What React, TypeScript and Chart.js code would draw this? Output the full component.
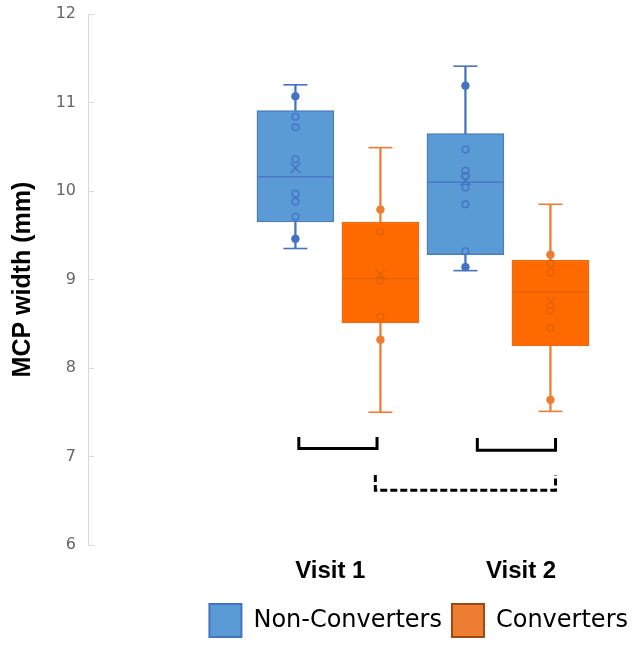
import React, { useEffect, useRef } from "react";
import { Chart, registerables } from "chart.js";

Chart.register(...registerables);

// ---------- data ----------
const visitLabels = ["Visit 1", "Visit 2"];
const seriesNames = ["Non-Converters", "Converters"];

// Non-Converters, per visit
const nonConvMin = [9.35, 9.1];
const nonConvQ1 = [9.65, 9.28];
const nonConvMedian = [10.16, 10.1];
const nonConvQ3 = [10.91, 10.65];
const nonConvMax = [11.2, 11.41];
const nonConvMean = [10.26, 10.12];
const nonConvFilled = [
  [11.07, 9.46],
  [11.19, 9.14],
];
const nonConvHollow = [
  [10.84, 10.72, 10.36, 9.97, 9.88, 9.71],
  [10.47, 10.23, 10.17, 10.04, 9.85, 9.32],
];

// Converters, per visit
const convMin = [7.5, 7.51];
const convQ1 = [8.51, 8.25];
const convMedian = [9.01, 8.86];
const convQ3 = [9.65, 9.22];
const convMax = [10.49, 9.85];
const convMean = [9.06, 8.75];
const convFilled = [
  [9.79, 8.32],
  [9.28, 7.64],
];
const convHollow = [
  [9.54, 8.99, 8.58],
  [9.18, 9.08, 8.65, 8.45],
];

// comparison brackets: [xStart, xEnd, yEnd(tips), yBar] in axis units / mm
const bracketVisit1 = [0.77, 1.23, 7.22, 7.09];
const bracketVisit2 = [1.82, 2.28, 7.21, 7.07];
const bracketConverters = [1.22, 2.28, 6.79, 6.62];

const yTicks = [6, 7, 8, 9, 10, 11, 12];

// ---------- layout constants ----------
const groupCenters = [1, 2];
const boxOffset = 0.25;
const visitLabelPos = [0.955, 2.077];
const X_MIN = -0.47;
const X_MAX = 2.765;

const BLUE_FILL = "#5B9BD5";
const BLUE_EDGE = "#4A7EBB";
const BLUE_LINE = "#4472C4";
const ORANGE_FILL = "#FF6A00";
const ORANGE_EDGE = "#EC6A10";
const ORANGE_LINE = "#ED7D31";
const ORANGE_MARK = "#E0600A";

const xNC = groupCenters.map((c) => c - boxOffset);
const xC = groupCenters.map((c) => c + boxOffset);

function bracketPoints(b: number[]) {
  const [x0, x1, yTip, yBar] = b;
  return [
    { x: x0, y: yTip },
    { x: x0, y: yBar },
    { x: x1, y: yBar },
    { x: x1, y: yTip },
  ];
}

function seriesDatasets(
  xs: number[],
  mins: number[],
  q1: number[],
  med: number[],
  q3: number[],
  maxs: number[],
  means: number[],
  filled: number[][],
  hollow: number[][],
  c: { fill: string; edge: string; line: string; mark: string; markHollow: string },
  name: string
) {
  return [
    {
      type: "bar",
      label: name + " whisker",
      data: xs.map((x, i) => ({ x, y: [mins[i], maxs[i]] })),
      backgroundColor: c.line,
      borderWidth: 0,
      barThickness: 1.6,
      grouped: false,
      order: 10,
    },
    {
      type: "bar",
      label: name,
      data: xs.map((x, i) => ({ x, y: [q1[i], q3[i]] })),
      backgroundColor: c.fill,
      borderColor: c.edge,
      borderWidth: 1.5,
      borderSkipped: false,
      barThickness: 77,
      grouped: false,
      order: 9,
    },
    {
      type: "scatter",
      label: name + " caps",
      data: xs.flatMap((x, i) => [
        { x, y: mins[i] },
        { x, y: maxs[i] },
      ]),
      pointStyle: "line",
      pointRadius: 12,
      pointBorderWidth: 1.6,
      pointBorderColor: c.line,
      pointBackgroundColor: c.line,
      order: 6,
    },
    {
      type: "scatter",
      label: name + " median",
      data: xs.map((x, i) => ({ x, y: med[i] })),
      pointStyle: "line",
      pointRadius: 37.5,
      pointBorderWidth: 1.3,
      pointBorderColor: c.mark,
      pointBackgroundColor: c.mark,
      order: 5,
    },
    {
      type: "scatter",
      label: name + " mean",
      data: xs.map((x, i) => ({ x, y: means[i] })),
      pointStyle: "crossRot",
      pointRadius: 7,
      pointBorderWidth: 1.5,
      pointBorderColor: c.mark,
      pointBackgroundColor: c.mark,
      order: 4,
    },
    {
      type: "scatter",
      label: name + " points",
      data: xs.flatMap((x, i) => hollow[i].map((y) => ({ x, y }))),
      pointStyle: "circle",
      pointRadius: 3.3,
      pointBorderWidth: 1.4,
      pointBorderColor: c.markHollow,
      pointBackgroundColor: "rgba(0,0,0,0)",
      order: 3,
    },
    {
      type: "scatter",
      label: name + " outer points",
      data: xs.flatMap((x, i) => filled[i].map((y) => ({ x, y }))),
      pointStyle: "circle",
      pointRadius: 3.8,
      pointBorderWidth: 1,
      pointBorderColor: c.line,
      pointBackgroundColor: c.line,
      order: 2,
    },
  ];
}

function bracketDataset(b: number[], dashed: boolean) {
  return {
    type: "line",
    label: "bracket",
    data: bracketPoints(b),
    borderColor: "#000",
    borderWidth: 3,
    borderDash: dashed ? [7, 3] : [],
    borderJoinStyle: "miter",
    borderCapStyle: "butt",
    pointRadius: 0,
    fill: false,
    tension: 0,
    clip: false,
    order: 1,
  };
}

function zeroPadding(scale: any) {
  scale.paddingLeft = 0;
  scale.paddingRight = 0;
  scale.paddingTop = 0;
  scale.paddingBottom = 0;
}

export default function App() {
  const ref = useRef<HTMLCanvasElement>(null);

  useEffect(() => {
    if (!ref.current) return;
    const datasets: any[] = [
      ...seriesDatasets(
        xNC,
        nonConvMin,
        nonConvQ1,
        nonConvMedian,
        nonConvQ3,
        nonConvMax,
        nonConvMean,
        nonConvFilled,
        nonConvHollow,
        { fill: BLUE_FILL, edge: BLUE_EDGE, line: BLUE_LINE, mark: BLUE_LINE, markHollow: BLUE_LINE },
        seriesNames[0]
      ),
      ...seriesDatasets(
        xC,
        convMin,
        convQ1,
        convMedian,
        convQ3,
        convMax,
        convMean,
        convFilled,
        convHollow,
        { fill: ORANGE_FILL, edge: ORANGE_EDGE, line: ORANGE_LINE, mark: ORANGE_MARK, markHollow: ORANGE_MARK },
        seriesNames[1]
      ),
      bracketDataset(bracketVisit1, false),
      bracketDataset(bracketVisit2, false),
      bracketDataset(bracketConverters, true),
    ];

    const chart = new Chart(ref.current, {
      type: "bar",
      data: { datasets },
      options: {
        animation: false,
        responsive: true,
        maintainAspectRatio: false,
        events: [],
        layout: { autoPadding: false, padding: { top: 14, right: 0, bottom: 1, left: 0 } },
        plugins: {
          tooltip: { enabled: false },
          title: { display: false },
          legend: {
            display: true,
            position: "bottom",
            align: "end",
            labels: {
              boxWidth: 32,
              boxHeight: 33,
              padding: 10,
              color: "#000",
              font: { family: "'DejaVu Sans', sans-serif", size: 24 },
              generateLabels: () => [
                {
                  text: seriesNames[0],
                  fillStyle: BLUE_FILL,
                  strokeStyle: BLUE_LINE,
                  lineWidth: 2,
                  hidden: false,
                  datasetIndex: 1,
                  fontColor: "#000",
                },
                {
                  text: seriesNames[1],
                  fillStyle: "#ED7D31",
                  strokeStyle: "#9C4A12",
                  lineWidth: 2,
                  hidden: false,
                  datasetIndex: 8,
                  fontColor: "#000",
                },
              ],
            },
          },
        },
        scales: {
          x: {
            type: "linear",
            min: X_MIN,
            max: X_MAX,
            offset: false,
            grid: { display: false },
            border: { display: false },
            afterBuildTicks: (scale: any) => {
              scale.ticks = visitLabelPos.map((v) => ({ value: v }));
            },
            afterFit: (scale: any) => {
              scale.height = 49;
              zeroPadding(scale);
            },
            ticks: {
              autoSkip: false,
              maxRotation: 0,
              minRotation: 0,
              padding: 4,
              color: "#000",
              font: { family: "'Liberation Sans', Arial, sans-serif", size: 24, weight: "bold" },
              callback: (_v: any, i: number) => visitLabels[i],
            },
          },
          y: {
            type: "linear",
            min: yTicks[0],
            max: yTicks[yTicks.length - 1],
            afterBuildTicks: (scale: any) => {
              scale.ticks = yTicks.map((v) => ({ value: v }));
            },
            afterFit: (scale: any) => {
              scale.width = 88;
              zeroPadding(scale);
            },
            grid: {
              display: true,
              drawOnChartArea: false,
              drawTicks: true,
              tickLength: -6,
              color: "#d9d9d9",
            },
            border: { display: true, color: "#d9d9d9", width: 1 },
            ticks: {
              padding: 18,
              color: "#666",
              font: { family: "'DejaVu Sans', sans-serif", size: 16 },
              callback: (v: any) => String(v),
            },
            title: {
              display: true,
              text: "MCP width (mm)",
              color: "#000",
              padding: { top: 8, bottom: 0 },
              font: { family: "'Liberation Sans', Arial, sans-serif", size: 25, weight: "bold" },
            },
          },
        },
      } as any,
    });
    return () => chart.destroy();
  }, []);

  return (
    <div style={{ position: "absolute", left: 0, top: 0, width: 638, height: 648 }}>
      <canvas ref={ref} />
    </div>
  );
}
